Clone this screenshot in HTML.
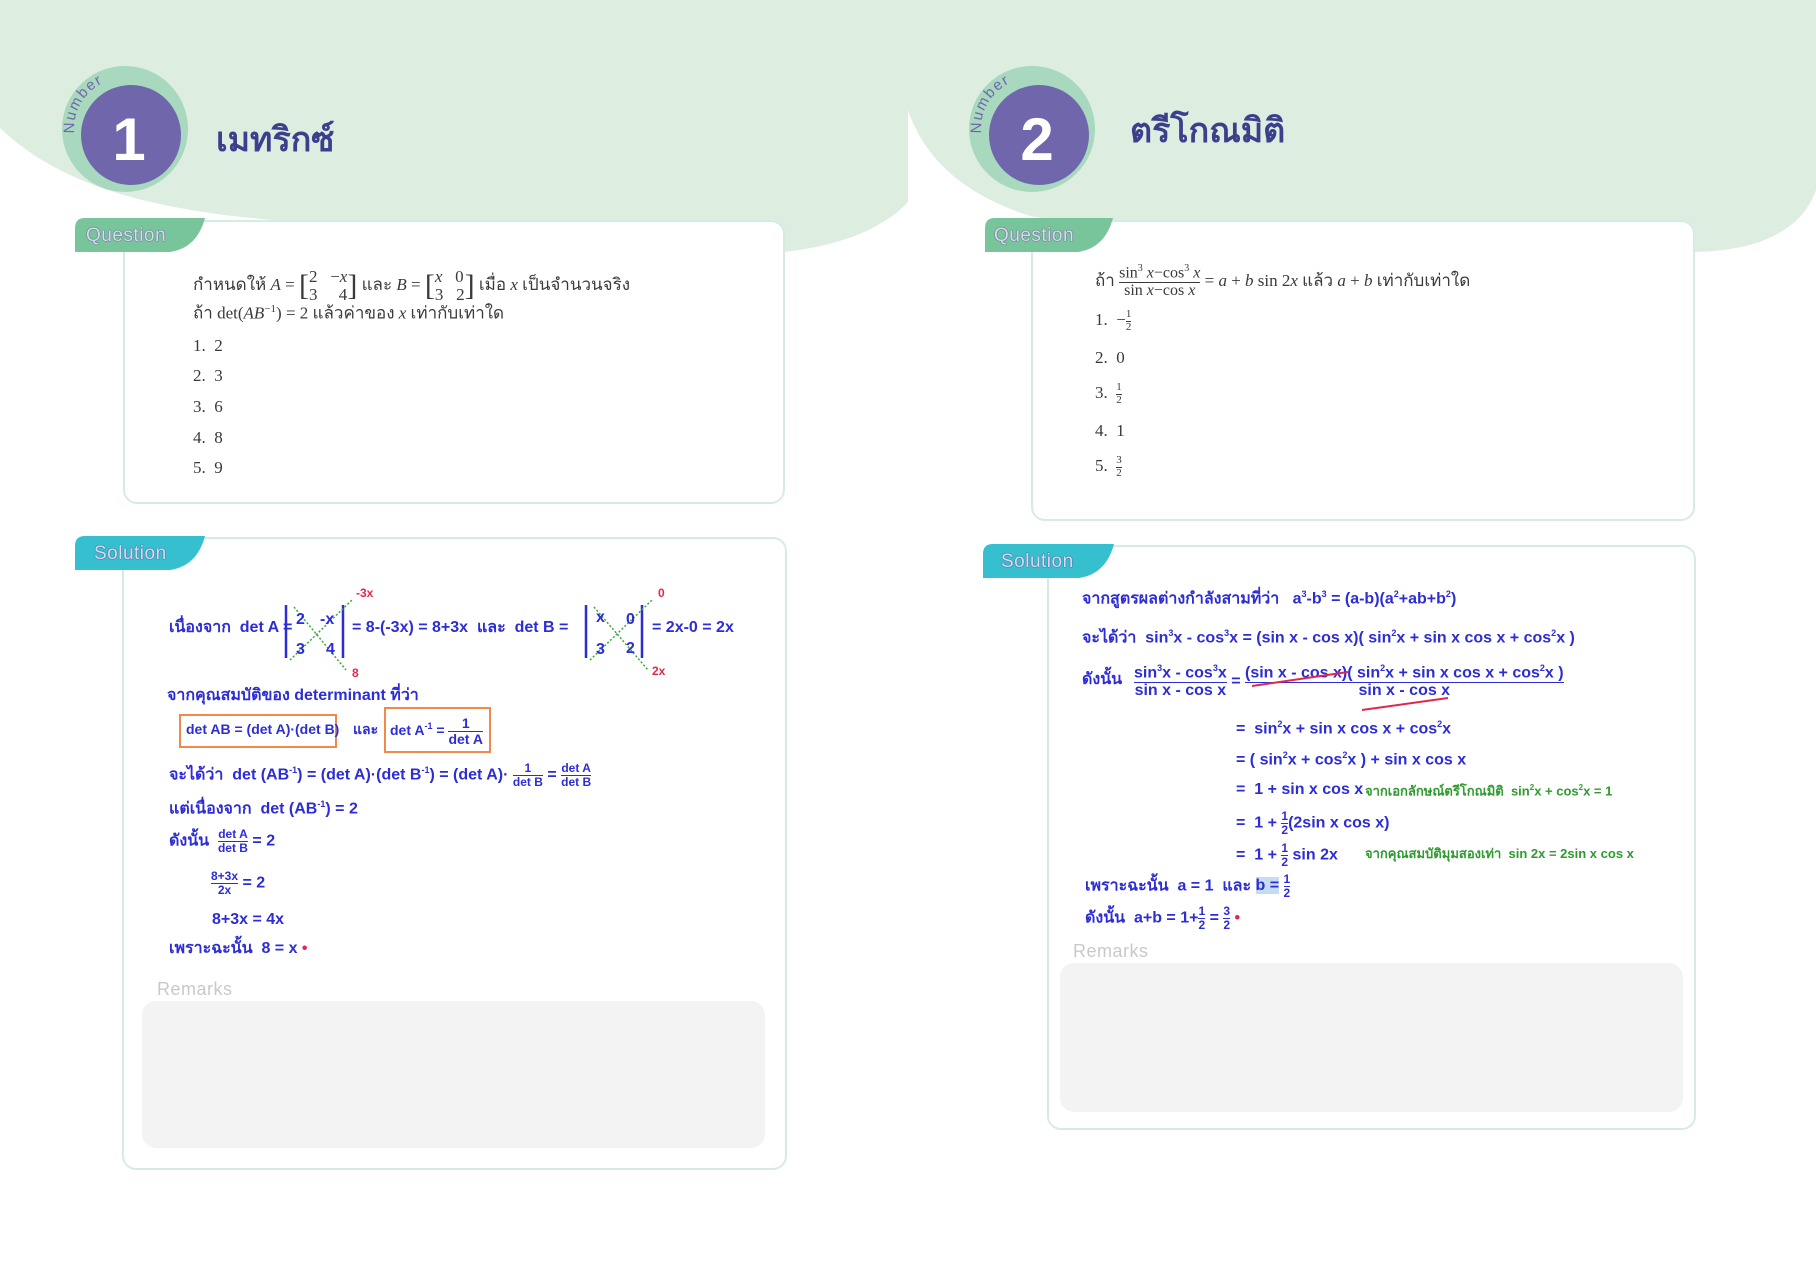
<!DOCTYPE html>
<html><head><meta charset="utf-8">
<style>
html,body{margin:0;padding:0;background:#fff;}
body{width:1816px;height:1280px;position:relative;overflow:hidden;font-family:"Liberation Sans","DejaVu Sans",sans-serif;}
.t{position:absolute;white-space:nowrap;line-height:1;}
.q{font-family:"Liberation Serif","DejaVu Serif",serif;font-size:17px;color:#3a3a3a;}
.h{font-family:"Liberation Sans Narrow","Liberation Sans","DejaVu Sans",sans-serif;font-size:16px;color:#2d2dd6;font-weight:bold;}
.g{color:#2f9a2f;font-size:13px;}
.r{color:#e0284a;}
.fr{display:inline-block;vertical-align:middle;text-align:center;line-height:1.05;}
.fr span{display:block;}
.fr span:first-child{border-bottom:1.5px solid currentColor;}
.sm{font-size:12px;}
.box{position:absolute;border:2px solid #d6ece2;border-radius:14px;background:#fff;}
.tit{font-size:34px;font-weight:bold;color:#3b3f8c;font-family:"Liberation Sans","DejaVu Sans",sans-serif;}
.lab{font-size:19px;color:#ddd8f6;letter-spacing:0.5px;text-shadow:0 0 1px #4b4a7a,0 0 1px #4b4a7a;}
.rem{position:absolute;background:#f3f3f3;border-radius:14px;}
.remt{font-size:18px;color:#c9c9c9;letter-spacing:0.5px;}
.ob{position:absolute;border:2px solid #f08a4c;}
</style></head><body>
<svg width="1816" height="1280" style="position:absolute;left:0;top:0">
<path d="M0 0 H908 V202 C880 232 830 250 760 254 L300 222 C150 212 60 185 0 128 Z" fill="#ddede0"/>
<path d="M908 0 H1816 V190 C1800 235 1750 252 1690 252 C1400 250 1150 236 1030 216 C965 195 925 160 908 110 Z" fill="#ddede0"/>
<circle cx="125" cy="129" r="63" fill="#a8d8bd"/>
<circle cx="131" cy="135" r="50" fill="#6f66ab"/>
<path id="a1" d="M74.2 133.4 A51 51 0 0 1 142.4 81" fill="none"/>
<text font-size="15" letter-spacing="1.5" fill="#6f66ab" font-family="Liberation Sans"><textPath href="#a1">Number</textPath></text>
<text x="129" y="160" text-anchor="middle" font-size="60" font-weight="bold" fill="#fff" font-family="Liberation Sans">1</text>
<circle cx="1032" cy="129" r="63" fill="#a8d8bd"/>
<circle cx="1039" cy="135" r="50" fill="#6f66ab"/>
<path id="a2" d="M981.2 133.4 A51 51 0 0 1 1049.4 81" fill="none"/>
<text font-size="15" letter-spacing="1.5" fill="#6f66ab" font-family="Liberation Sans"><textPath href="#a2">Number</textPath></text>
<text x="1037" y="160" text-anchor="middle" font-size="60" font-weight="bold" fill="#fff" font-family="Liberation Sans">2</text>
</svg>
<div class="t tit" style="left:216px;top:123px">เมทริกซ์</div>
<div class="t tit" style="left:1130px;top:114px">ตรีโกณมิติ</div>

<!-- LEFT QUESTION -->
<div class="box" style="left:123px;top:220px;width:658px;height:280px"></div>
<svg width="140" height="40" style="position:absolute;left:75px;top:218px"><path d="M0 10 Q0 0 10 0 H130 Q122 30 95 34 H0 Z" fill="#78c59b"/></svg>
<div class="t lab" style="left:86px;top:226px">Question</div>
<div class="t q" style="left:193px;top:268px">กำหนดให้ <i>A</i> = <span style="font-size:30px;vertical-align:middle">[</span><span class="fr" style="text-align:left"><span style="border:none">2 &nbsp;&nbsp;−<i>x</i></span><span>3 &nbsp;&nbsp;&nbsp;&nbsp;4</span></span><span style="font-size:30px;vertical-align:middle">]</span> และ <i>B</i> = <span style="font-size:30px;vertical-align:middle">[</span><span class="fr" style="text-align:left"><span style="border:none"><i>x</i> &nbsp;&nbsp;0</span><span>3 &nbsp;&nbsp;2</span></span><span style="font-size:30px;vertical-align:middle">]</span> เมื่อ <i>x</i> เป็นจำนวนจริง</div>
<div class="t q" style="left:193px;top:304px">ถ้า det(<i>AB</i><sup style="font-size:11px">−1</sup>) = 2 แล้วค่าของ <i>x</i> เท่ากับเท่าใด</div>
<div class="t q" style="left:193px;top:337px">1.&nbsp; 2</div>
<div class="t q" style="left:193px;top:367px">2.&nbsp; 3</div>
<div class="t q" style="left:193px;top:398px">3.&nbsp; 6</div>
<div class="t q" style="left:193px;top:429px">4.&nbsp; 8</div>
<div class="t q" style="left:193px;top:459px">5.&nbsp; 9</div>

<!-- LEFT SOLUTION -->
<div class="box" style="left:122px;top:537px;width:661px;height:629px"></div>
<svg width="140" height="40" style="position:absolute;left:75px;top:536px"><path d="M0 10 Q0 0 10 0 H130 Q122 30 95 34 H0 Z" fill="#36bfcf"/></svg>
<div class="t lab" style="left:94px;top:544px">Solution</div>
<svg width="800" height="200" style="position:absolute;left:0;top:580px">
<g stroke="#2d2dd6" stroke-width="2.5"><line x1="286" y1="25" x2="286" y2="78"/><line x1="343" y1="25" x2="343" y2="78"/><line x1="586" y1="25" x2="586" y2="78"/><line x1="642" y1="25" x2="642" y2="78"/></g>
<g stroke="#3aa83a" stroke-width="1.5" stroke-dasharray="2 2" fill="none"><line x1="290" y1="80" x2="352" y2="20"/><line x1="294" y1="27" x2="346" y2="90"/><line x1="590" y1="80" x2="652" y2="20"/><line x1="594" y1="27" x2="648" y2="90"/></g>
</svg>
<div class="t h" style="left:169px;top:620px">เนื่องจาก &nbsp;det A =</div>
<div class="t h" style="left:296px;top:612px">2</div><div class="t h" style="left:320px;top:612px">-x</div>
<div class="t h" style="left:296px;top:642px">3</div><div class="t h" style="left:326px;top:642px">4</div>
<div class="t h r sm" style="left:356px;top:587px">-3x</div><div class="t h r sm" style="left:352px;top:667px">8</div>
<div class="t h" style="left:352px;top:620px">= 8-(-3x) = 8+3x &nbsp;และ &nbsp;det B =</div>
<div class="t h" style="left:596px;top:610px">x</div><div class="t h" style="left:626px;top:612px">0</div>
<div class="t h" style="left:596px;top:642px">3</div><div class="t h" style="left:626px;top:641px">2</div>
<div class="t h r sm" style="left:658px;top:587px">0</div><div class="t h r sm" style="left:652px;top:665px">2x</div>
<div class="t h" style="left:652px;top:620px">= 2x-0 = 2x</div>
<div class="t h" style="left:167px;top:688px">จากคุณสมบัติของ determinant ที่ว่า</div>
<div class="ob" style="left:179px;top:714px;width:154px;height:30px"></div>
<div class="t h" style="left:186px;top:722px;font-size:14px">det AB = (det A)·(det B)</div>
<div class="t h" style="left:353px;top:722px;font-size:14px">และ</div>
<div class="ob" style="left:384px;top:707px;width:103px;height:42px"></div>
<div class="t h" style="left:390px;top:716px;font-size:14px">det A<sup style="font-size:9px">-1</sup> = <span class="fr"><span>1</span><span>det A</span></span></div>
<div class="t h" style="left:169px;top:762px">จะได้ว่า &nbsp;det (AB<sup style="font-size:9px">-1</sup>) = (det A)·(det B<sup style="font-size:9px">-1</sup>) = (det A)· <span class="fr sm"><span>1</span><span>det B</span></span> = <span class="fr sm"><span>det A</span><span>det B</span></span></div>
<div class="t h" style="left:169px;top:800px">แต่เนื่องจาก &nbsp;det (AB<sup style="font-size:9px">-1</sup>) = 2</div>
<div class="t h" style="left:169px;top:828px">ดังนั้น &nbsp;<span class="fr sm"><span>det A</span><span>det B</span></span> = 2</div>
<div class="t h" style="left:211px;top:870px"><span class="fr sm"><span>8+3x</span><span>2x</span></span> = 2</div>
<div class="t h" style="left:212px;top:912px">8+3x = 4x</div>
<div class="t h" style="left:169px;top:941px">เพราะฉะนั้น &nbsp;8 = x <span class="r">•</span></div>
<div class="t remt" style="left:157px;top:980px">Remarks</div>
<div class="rem" style="left:142px;top:1001px;width:623px;height:147px"></div>

<!-- RIGHT QUESTION -->
<div class="box" style="left:1031px;top:220px;width:660px;height:297px"></div>
<svg width="140" height="40" style="position:absolute;left:985px;top:218px"><path d="M0 10 Q0 0 10 0 H128 Q120 30 93 34 H0 Z" fill="#78c59b"/></svg>
<div class="t lab" style="left:994px;top:226px">Question</div>
<div class="t q" style="left:1095px;top:264px">ถ้า <span class="fr" style="font-size:16px"><span>sin<sup style="font-size:10px">3</sup> <i>x</i>−cos<sup style="font-size:10px">3</sup> <i>x</i></span><span>sin <i>x</i>−cos <i>x</i></span></span> = <i>a</i> + <i>b</i> sin 2<i>x</i> แล้ว <i>a</i> + <i>b</i> เท่ากับเท่าใด</div>
<div class="t q" style="left:1095px;top:309px">1.&nbsp; −<span class="fr" style="font-size:11px"><span>1</span><span>2</span></span></div>
<div class="t q" style="left:1095px;top:349px">2.&nbsp; 0</div>
<div class="t q" style="left:1095px;top:382px">3.&nbsp; <span class="fr" style="font-size:11px"><span>1</span><span>2</span></span></div>
<div class="t q" style="left:1095px;top:422px">4.&nbsp; 1</div>
<div class="t q" style="left:1095px;top:455px">5.&nbsp; <span class="fr" style="font-size:11px"><span>3</span><span>2</span></span></div>

<!-- RIGHT SOLUTION -->
<div class="box" style="left:1047px;top:545px;width:645px;height:581px"></div>
<svg width="140" height="40" style="position:absolute;left:983px;top:544px"><path d="M0 10 Q0 0 10 0 H131 Q123 30 96 34 H0 Z" fill="#36bfcf"/></svg>
<div class="t lab" style="left:1001px;top:552px">Solution</div>
<div class="t h" style="left:1082px;top:590px">จากสูตรผลต่างกำลังสามที่ว่า &nbsp;&nbsp;a<sup style="font-size:9px">3</sup>-b<sup style="font-size:9px">3</sup> = (a-b)(a<sup style="font-size:9px">2</sup>+ab+b<sup style="font-size:9px">2</sup>)</div>
<div class="t h" style="left:1082px;top:629px">จะได้ว่า &nbsp;sin<sup style="font-size:9px">3</sup>x - cos<sup style="font-size:9px">3</sup>x = (sin x - cos x)( sin<sup style="font-size:9px">2</sup>x + sin x cos x + cos<sup style="font-size:9px">2</sup>x )</div>
<div class="t h" style="left:1082px;top:672px">ดังนั้น</div>
<div class="t h" style="left:1134px;top:664px"><span class="fr"><span>sin<sup style="font-size:9px">3</sup>x - cos<sup style="font-size:9px">3</sup>x</span><span>sin x - cos x</span></span> = <span class="fr"><span>(sin x - cos x)( sin<sup style="font-size:9px">2</sup>x + sin x cos x + cos<sup style="font-size:9px">2</sup>x )</span><span>sin x - cos x</span></span></div>
<svg width="400" height="60" style="position:absolute;left:1240px;top:660px"><line x1="12" y1="26" x2="108" y2="12" stroke="#e0284a" stroke-width="2"/><line x1="122" y1="50" x2="208" y2="38" stroke="#e0284a" stroke-width="2"/></svg>
<div class="t h" style="left:1236px;top:720px">= &nbsp;sin<sup style="font-size:9px">2</sup>x + sin x cos x + cos<sup style="font-size:9px">2</sup>x</div>
<div class="t h" style="left:1236px;top:751px">= ( sin<sup style="font-size:9px">2</sup>x + cos<sup style="font-size:9px">2</sup>x ) + sin x cos x</div>
<div class="t h" style="left:1236px;top:782px">= &nbsp;1 + sin x cos x</div>
<div class="t h g" style="left:1365px;top:784px">จากเอกลักษณ์ตรีโกณมิติ &nbsp;sin<sup style="font-size:8px">2</sup>x + cos<sup style="font-size:8px">2</sup>x = 1</div>
<div class="t h" style="left:1236px;top:810px">= &nbsp;1 + <span class="fr sm"><span>1</span><span>2</span></span>(2sin x cos x)</div>
<div class="t h" style="left:1236px;top:842px">= &nbsp;1 + <span class="fr sm"><span>1</span><span>2</span></span> sin 2x</div>
<div class="t h g" style="left:1365px;top:847px">จากคุณสมบัติมุมสองเท่า &nbsp;sin 2x = 2sin x cos x</div>
<div class="t h" style="left:1085px;top:873px">เพราะฉะนั้น &nbsp;a = 1 &nbsp;และ <span style="background:#c6dcf0">b =</span> <span class="fr sm"><span>1</span><span>2</span></span></div>
<div class="t h" style="left:1085px;top:905px">ดังนั้น &nbsp;a+b = 1+<span class="fr sm"><span>1</span><span>2</span></span> = <span class="fr sm"><span>3</span><span>2</span></span> <span class="r">•</span></div>
<div class="t remt" style="left:1073px;top:942px">Remarks</div>
<div class="rem" style="left:1060px;top:963px;width:623px;height:149px"></div>
</body></html>
